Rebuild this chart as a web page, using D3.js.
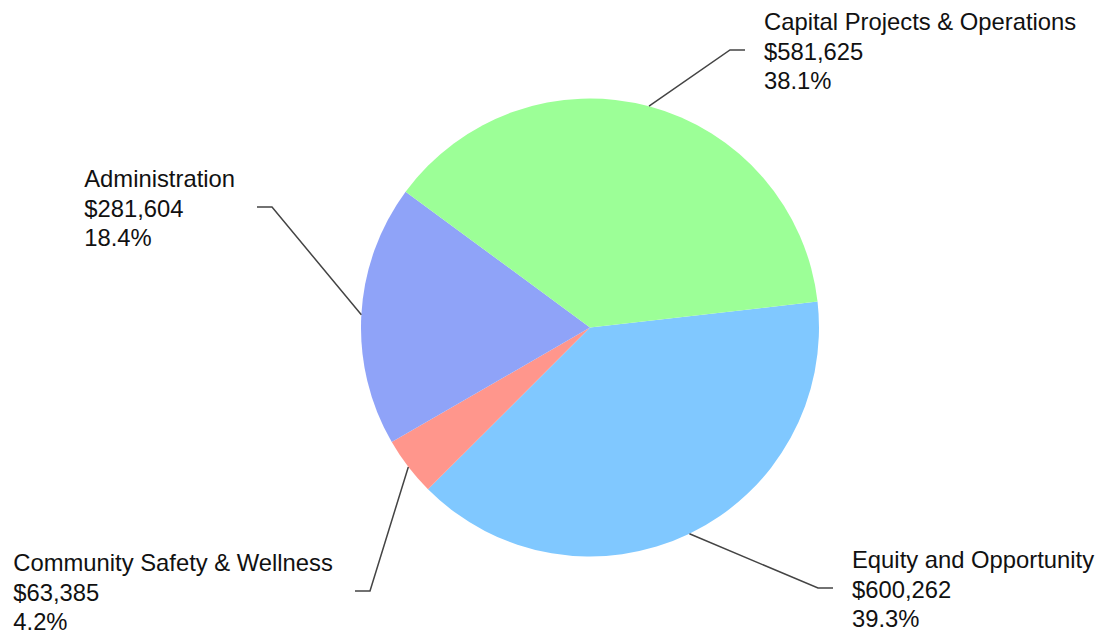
<!DOCTYPE html>
<html>
<head>
<meta charset="utf-8">
<script src="https://cdn.jsdelivr.net/npm/d3@7"></script>
<style>
  body { margin: 0; background: #fff; }
  text { font-family: "Liberation Sans", Arial, sans-serif; fill: #111; }
</style>
</head>
<body>
<div id="chart"></div>
<script>
// data, in drawing order (clockwise)
const categories = ["Equity and Opportunity", "Community Safety & Wellness", "Administration", "Capital Projects & Operations"];
const amounts = [600262, 63385, 281604, 581625];
const colors = ["#80c8ff", "#ff968c", "#8fa3f8", "#9cff97"];

const width = 1100, height = 630;
const cx = 590, cy = 327.5, radius = 229;
const fontSize = 23.8, lineGap = 29.5;

// elbow point of each leader line and which side the label sits on
const labelLayout = {
    "Equity and Opportunity": {x: 818, y: 588, side: "right"},
    "Community Safety & Wellness": {x: 370, y: 591, side: "left"},
    "Administration": {x: 272, y: 207, side: "left"},
    "Capital Projects & Operations": {x: 730, y: 50, side: "right"}
};

const total = d3.sum(amounts);
const data = categories.map((c, i) => ({name: c, value: amounts[i], color: colors[i]}));

const svg = d3.select("#chart").append("svg")
    .attr("width", width)
    .attr("height", height);

const g = svg.append("g")
    .attr("transform", `translate(${cx},${cy})`);

const startAngle = 83.5 * Math.PI / 180;
const pie = d3.pie()
    .sort(null)
    .value(d => d.value)
    .startAngle(startAngle)
    .endAngle(startAngle + 2 * Math.PI);

const arc = d3.arc().innerRadius(0).outerRadius(radius);

const arcs = pie(data);

g.selectAll(".slice")
    .data(arcs)
    .enter().append("path")
    .attr("class", "slice")
    .attr("d", arc)
    .attr("fill", d => d.data.color);

const fmtMoney = d3.format("$,");
const fmtPct = d3.format(".1%");

// labels with leader lines
arcs.forEach(d => {
    const lay = labelLayout[d.data.name];
    const mid = (d.startAngle + d.endAngle) / 2;
    const sx = cx + radius * Math.sin(mid);
    const sy = cy - radius * Math.cos(mid);
    const dir = lay.side === "right" ? 1 : -1;
    const hx = lay.x + dir * 15;

    svg.append("polyline")
        .attr("points", `${sx},${sy} ${lay.x},${lay.y} ${hx},${lay.y}`)
        .attr("fill", "none")
        .attr("stroke", "#444")
        .attr("stroke-width", 1.5);

    const lines = [d.data.name, fmtMoney(d.data.value), fmtPct(d.data.value / total)];
    const t = svg.append("text")
        .style("font-size", fontSize + "px");

    lines.forEach((l, i) => {
        t.append("tspan")
            .attr("x", 0)
            .attr("y", lay.y + 9.5 + (i - 1) * lineGap)
            .text(l);
    });

    const w = t.node().getBBox().width;
    const tx = lay.side === "right" ? hx + 19 : hx - 22 - w;
    t.selectAll("tspan").attr("x", tx);
});
</script>
</body>
</html>
